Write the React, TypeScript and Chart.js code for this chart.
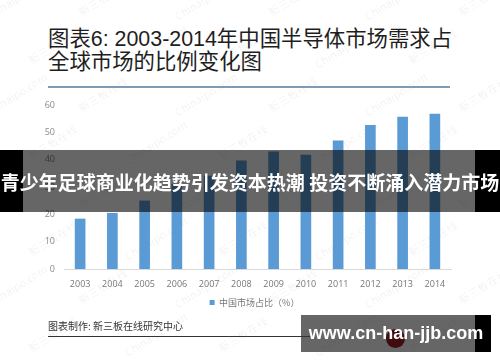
import React, { useEffect, useRef } from "react";
import { Chart, registerables } from "chart.js";

Chart.register(...registerables);

const years = ["2003", "2004", "2005", "2006", "2007", "2008", "2009", "2010", "2011", "2012", "2013", "2014"];
const shareValues = [18.3, 20.4, 24.9, 31, 34, 39.6, 42.9, 41.7, 46.9, 52.6, 55.6, 56.7];
const yTicks = [0, 10, 20, 30, 40, 50, 60];
const seriesLabel = "中国市场占比（%）";
const titleLines = ["图表6: 2003-2014年中国半导体市场需求占", "全球市场的比例变化图"];
const sourceText = "图表制作: 新三板在线研究中心";
const bannerText = "青少年足球商业化趋势引发资本热潮 投资不断涌入潜力市场";
const siteText = "www.cn-han-jjb.com";
const watermarkTexts = ["Chinaipo.com", "新三板在线"];

const CJK = "'Noto Sans CJK SC', 'Noto Sans', sans-serif";
const TITLE_FONT = "'Liberation Sans', 'Noto Sans CJK SC', sans-serif";

const legendShift = {
  id: "legendShift",
  afterLayout(chart: any) {
    const l = chart.legend;
    if (l) {
      l.left += 29;
      l.right += 29;
    }
  },
};

function Watermarks() {
  const items: React.ReactNode[] = [];
  let k = 0;
  for (let r = 0; r < 8; r++) {
    for (let c = 0; c < 6; c++) {
      const txt = watermarkTexts[(r + c) % 2];
      items.push(
        <div
          key={k++}
          style={{
            position: "absolute",
            left: c * 95 - 20 + (r % 2) * 45,
            top: r * 48 - 10,
            transform: "rotate(-32deg)",
            color: "rgba(0,0,0,0.07)",
            fontSize: 11,
            fontFamily: CJK,
            whiteSpace: "nowrap",
          }}
        >
          {txt}
        </div>
      );
    }
  }
  return <>{items}</>;
}

export default function App() {
  const canvasRef = useRef<HTMLCanvasElement | null>(null);

  useEffect(() => {
    const canvas = canvasRef.current;
    if (!canvas) return;
    const chart = new Chart(canvas, {
      type: "bar",
      data: {
        labels: years,
        datasets: [
          {
            label: seriesLabel,
            data: shareValues,
            backgroundColor: "#5b9bd5",
            barThickness: 10,
          },
        ],
      },
      plugins: [legendShift],
      options: {
        responsive: false,
        animation: false,
        layout: { padding: { top: 105, right: 49, bottom: 45, left: 0 } },
        plugins: {
          tooltip: { enabled: false },
          legend: {
            position: "bottom",
            labels: {
              boxWidth: 5,
              boxHeight: 5,
              padding: 5,
              color: "#777",
              font: { size: 9, family: CJK },
            },
          },
        },
        scales: {
          x: {
            grid: { display: false, drawTicks: false },
            border: { color: "#d9d9d9" },
            ticks: { color: "#777", padding: 10, font: { size: 9, family: "'Open Sans', sans-serif" } },
            afterFit: (s: any) => {
              s.height = 24;
            },
          },
          y: {
            min: 0,
            max: 60,
            grid: { display: false, drawTicks: false },
            border: { display: false },
            ticks: { color: "#8a8a8a", padding: 9, font: { size: 9, family: "'Open Sans', sans-serif" } },
            afterBuildTicks: (s: any) => {
              s.ticks = yTicks.map((v) => ({ value: v }));
            },
            afterFit: (s: any) => {
              s.width = 64;
            },
          },
        },
      },
    });
    return () => chart.destroy();
  }, []);

  return (
    <div
      style={{
        position: "absolute",
        left: 0,
        top: 0,
        width: 500,
        height: 362,
        background: "#fff",
        overflow: "hidden",
        fontFamily: CJK,
      }}
    >
      <Watermarks />
      <div
        style={{
          position: "absolute",
          left: 48,
          top: 28,
          fontSize: 21.4,
          lineHeight: "23px",
          color: "#1e1e1e",
          whiteSpace: "nowrap",
          fontFamily: TITLE_FONT,
        }}
      >
        {titleLines.map((t, i) => (
          <div key={i}>{t}</div>
        ))}
      </div>
      <div style={{ position: "absolute", left: 48, top: 86, width: 402, height: 2, background: "#7e9bb3" }} />
      <canvas ref={canvasRef} width={500} height={362} style={{ position: "absolute", left: 0, top: 0 }} />
      <div
        style={{
          position: "absolute",
          left: 48,
          top: 318,
          fontSize: 10,
          color: "#333",
          whiteSpace: "nowrap",
        }}
      >
        {sourceText}
      </div>
      {/* logo under overlay */}
      <div
        style={{
          position: "absolute",
          left: 386,
          top: 329,
          width: 19,
          height: 19,
          borderRadius: "50%",
          background: "#a01e22",
        }}
      />
      {/* banner overlay */}
      <div style={{ position: "absolute", left: 0, top: 150, width: 500, height: 62, background: "rgba(0,0,0,0.6)" }} />
      <div style={{ position: "absolute", left: 0, top: 150, width: 23, height: 62, background: "#000" }} />
      <div style={{ position: "absolute", left: 475, top: 150, width: 25, height: 62, background: "#000" }} />
      <div
        style={{
          position: "absolute",
          left: 0,
          top: 150,
          width: 500,
          height: 62,
          display: "flex",
          alignItems: "center",
          justifyContent: "center",
          color: "#fff",
          fontWeight: 700,
          fontSize: 19,
          whiteSpace: "nowrap",
        }}
      >
        {bannerText}
      </div>
      {/* bottom-right site box */}
      <div style={{ position: "absolute", left: 301, top: 315, width: 174, height: 37, background: "rgba(0,0,0,0.6)" }} />
      <div style={{ position: "absolute", left: 475, top: 315, width: 16, height: 37, background: "#000" }} />
      <div style={{ position: "absolute", left: 48, top: 336, width: 264, height: 1, background: "#333" }} />
      <div
        style={{
          position: "absolute",
          left: 301,
          top: 315,
          width: 190,
          height: 37,
          display: "flex",
          alignItems: "center",
          justifyContent: "center",
          color: "#fff",
          fontWeight: 700,
          fontSize: 18,
          fontFamily: "'Liberation Sans', Arial, sans-serif",
          whiteSpace: "nowrap",
        }}
      >
        {siteText}
      </div>
    </div>
  );
}
